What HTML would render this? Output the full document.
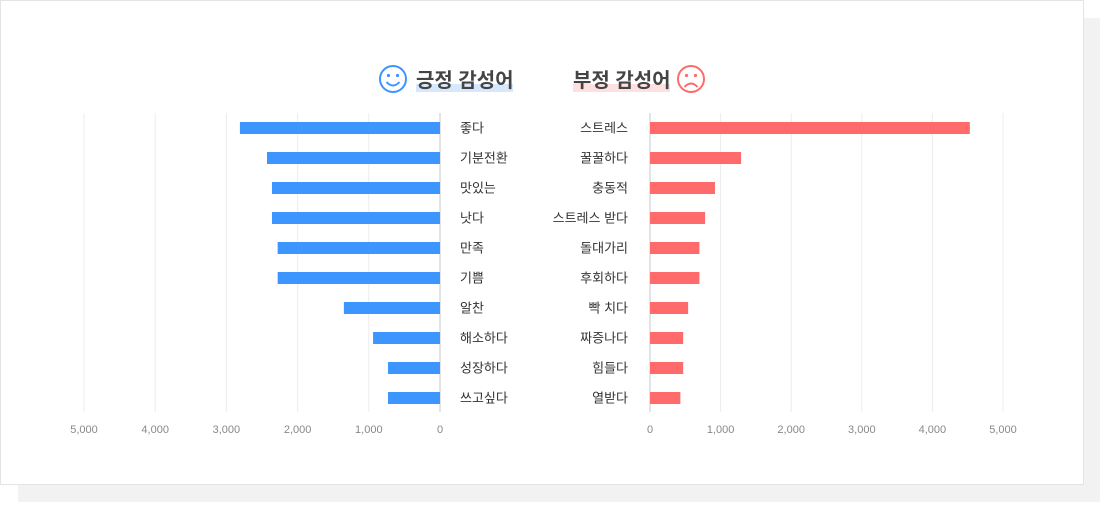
<!DOCTYPE html>
<html><head><meta charset="utf-8"><style>
body{margin:0;width:1100px;height:502px;background:#fff;overflow:hidden;font-family:"Liberation Sans","Noto Sans CJK KR",sans-serif}
</style></head><body>
<svg width="1100" height="502" xmlns="http://www.w3.org/2000/svg" font-family="Liberation Sans, Noto Sans CJK KR, sans-serif">
<rect x="18" y="18" width="1082" height="484" fill="#f2f2f2"/>
<rect x="0.5" y="0.5" width="1083" height="484" fill="#fff" stroke="#e4e4e4"/>
<g>
<circle cx="393" cy="79" r="13" fill="none" stroke="#3d95ff" stroke-width="2"/>
<circle cx="388.5" cy="75.5" r="1.6" fill="#3d95ff"/><circle cx="397.5" cy="75.5" r="1.6" fill="#3d95ff"/>
<path d="M386.5 82 Q393 89 399.5 82" fill="none" stroke="#3d95ff" stroke-width="2"/>
<rect x="416" y="84" width="97" height="8" fill="#d8e8fc"/>
<text x="416" y="87" font-size="20" font-weight="bold" fill="#444">긍정 감성어</text>
</g>
<g>
<rect x="573" y="84" width="97" height="8" fill="#fde0e0"/>
<text x="573" y="87" font-size="20" font-weight="bold" fill="#444">부정 감성어</text>
<circle cx="691" cy="79" r="13" fill="none" stroke="#ff6a6a" stroke-width="2"/>
<circle cx="686.5" cy="75.5" r="1.6" fill="#ff6a6a"/><circle cx="695.5" cy="75.5" r="1.6" fill="#ff6a6a"/>
<path d="M684.5 87 Q691 80 697.5 87" fill="none" stroke="#ff6a6a" stroke-width="2"/>
</g>
<g id="plot"></g>
</svg>
<script>
const posCats=["좋다","기분전환","맛있는","낫다","만족","기쁨","알찬","해소하다","성장하다","쓰고싶다"];
const posVals=[2810,2430,2360,2360,2280,2280,1350,940,730,730];
const negCats=["스트레스","꿀꿀하다","충동적","스트레스 받다","돌대가리","후회하다","빡 치다","짜증나다","힘들다","열받다"];
const negVals=[4530,1290,920,780,700,700,540,470,470,430];
const ticks=[0,1000,2000,3000,4000,5000];
const tickLabels=["0","1,000","2,000","3,000","4,000","5,000"];
const NS="http://www.w3.org/2000/svg";
const g=document.getElementById('plot');
const xl=v=>440-v*0.0712, xr=v=>650+v*0.0706;
const yRow=i=>128+i*30;
function mk(t,a,txt){const e=document.createElementNS(NS,t);for(const k in a)e.setAttribute(k,a[k]);if(txt!=null)e.textContent=txt;g.appendChild(e);return e;}
ticks.forEach((t,i)=>{
 const c=t===0?"#c8c8c8":"#ececec";
 let l=mk('line',{x1:xl(t),x2:xl(t),y1:113,y2:412,stroke:c});
 
 
 let r=mk('line',{x1:xr(t),x2:xr(t),y1:113,y2:412,stroke:c});
 
 
 let a=mk('text',{x:xl(t),y:433,'text-anchor':'middle','font-size':11,fill:'#888'},tickLabels[i]);
 
 
 let b=mk('text',{x:xr(t),y:433,'text-anchor':'middle','font-size':11,fill:'#888'},tickLabels[i]);
 
 
});
posVals.forEach((v,i)=>{
 let b=mk('rect',{x:xl(v),y:yRow(i)-6,width:440-xl(v),height:12,fill:'#3d95ff'});
 
 
 let t=mk('text',{x:460,y:yRow(i)+4.5,'font-size':13,fill:'#333'},posCats[i]);
 
 
});
negVals.forEach((v,i)=>{
 let b=mk('rect',{x:650,y:yRow(i)-6,width:xr(v)-650,height:12,fill:'#ff6a6a'});
 
 
 let t=mk('text',{x:628,y:yRow(i)+4.5,'text-anchor':'end','font-size':13,fill:'#333'},negCats[i]);
 
 
});
</script>
</body></html>
